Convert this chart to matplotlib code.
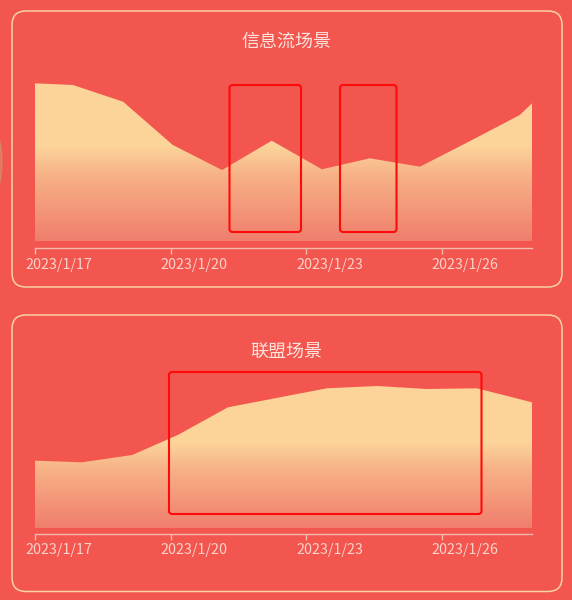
import numpy as np
import matplotlib
matplotlib.use("Agg")
import matplotlib.pyplot as plt
import matplotlib.transforms as mtransforms
from matplotlib.patches import FancyBboxPatch, PathPatch, Ellipse
from matplotlib.colors import LinearSegmentedColormap

plt.rcParams["font.family"] = ["Noto Sans CJK SC", "DejaVu Sans"]

# days after 2023/1/17
feed_days = [0, 0.84, 1.95, 3.05, 4.14, 5.24, 6.35, 7.41, 8.52, 9.63, 10.73, 11.0]
feed_vals = [157.7, 156, 139.3, 96, 71, 100.3, 71.7, 82.7, 74.3, 100, 126, 137.7]

union_days = [0, 1.04, 2.15, 3.16, 4.27, 6.46, 7.57, 8.67, 9.78, 11.0]
union_vals = [67.3, 65.7, 73, 93, 120.7, 139.7, 142, 139, 139.7, 125.7]

tick_days = [0, 3, 6, 9]
tick_labels = ["2023/1/17", "2023/1/20", "2023/1/23", "2023/1/26"]
titles = ["信息流场景", "联盟场景"]

BG = "#F2564F"
EDGE = "#F9D2A2"
AXIS = "#F7B8AC"
LABEL = "#FAD2CA"
TOP = "#FCD49A"
MID = "#F7B287"
LOW = "#F07E6D"

W, H = 572, 600


def gradient_area(ax, x, y):
    poly = ax.fill_between(x, 0, y, facecolor="none", edgecolor="none")
    patch = PathPatch(poly.get_paths()[0], transform=ax.transData,
                      facecolor="none", edgecolor="none")
    ax.add_patch(patch)
    cmap = LinearSegmentedColormap.from_list(
        "g", [(0, LOW), (0.42, MID), (0.6, TOP), (1, TOP)])
    grad = np.linspace(0, 1, 256).reshape(-1, 1)
    im = ax.imshow(grad, cmap=cmap, origin="lower", aspect="auto",
                   extent=[x[0], x[-1], 0, max(y)], zorder=2)
    im.set_clip_path(patch)


def style_axes(ax, ymin, ymax):
    ax.set_facecolor("none")
    ax.set_xlim(0, 11)
    ax.set_ylim(ymin, ymax)
    for s in ["top", "left", "right"]:
        ax.spines[s].set_visible(False)
    ax.spines["bottom"].set_color(AXIS)
    ax.spines["bottom"].set_linewidth(1.0)
    ax.set_yticks([])
    ax.set_xticks(tick_days)
    ax.set_xticklabels(tick_labels)
    ax.tick_params(axis="x", colors=AXIS, length=4, width=1, pad=3, labelsize=10.3,
                   labelcolor=LABEL)
    # labels sit a little left of their ticks in the original
    shift = mtransforms.ScaledTranslation(-10 / 100, 0, fig.dpi_scale_trans)
    for lab in ax.get_xticklabels():
        lab.set_ha("left")
        lab.set_transform(lab.get_transform() + shift)


fig = plt.figure(figsize=(W / 100, H / 100), dpi=100, facecolor=BG)

bg = fig.add_axes([0, 0, 1, 1], zorder=0)
bg.set_xlim(0, W)
bg.set_ylim(H, 0)
bg.axis("off")
bg.add_patch(Ellipse((-5, 162), 14, 56, color="#C9A66A", alpha=0.45))
for top, bot in [(11, 287), (315, 591.5)]:
    bg.add_patch(FancyBboxPatch((12, top), 550, bot - top,
                                boxstyle="round,pad=0,rounding_size=14",
                                facecolor="none", edgecolor=EDGE, linewidth=1.1))
bg.text(286, 41.5, titles[0], ha="center", va="center", fontsize=13, color="#FCE4DE")
bg.text(286, 352.5, titles[1], ha="center", va="center", fontsize=13, color="#FCE4DE")

# top chart: axis line at 248 px, fill baseline at 241 px
ax1 = fig.add_axes([35 / W, 1 - 248 / H, 497 / W, 188 / H], zorder=1)
gradient_area(ax1, feed_days, feed_vals)
style_axes(ax1, -7, 181)

# bottom chart: axis line at 533.5 px, fill baseline at 528 px
ax2 = fig.add_axes([35 / W, 1 - 533.5 / H, 497 / W, 173.5 / H], zorder=1)
gradient_area(ax2, union_days, union_vals)
style_axes(ax2, -5.5, 168)

over = fig.add_axes([0, 0, 1, 1], zorder=5)
over.set_facecolor("none")
over.set_xlim(0, W)
over.set_ylim(H, 0)
over.axis("off")
for x0, y0, x1, y1 in [(229.5, 85, 301, 232), (340, 85, 396.5, 232), (169, 372, 481.5, 514)]:
    over.add_patch(FancyBboxPatch((x0, y0), x1 - x0, y1 - y0,
                                  boxstyle="round,pad=0,rounding_size=3",
                                  facecolor="none", edgecolor="#FF0A0A", linewidth=1.5))

fig.savefig("out.png", dpi=100, facecolor=BG)
